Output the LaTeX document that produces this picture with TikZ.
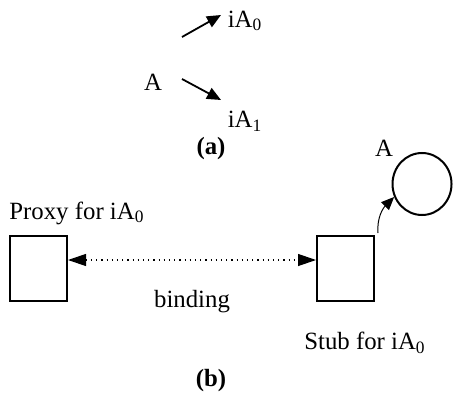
\documentclass[tikz,border=0pt]{standalone}
\usepackage{fontspec}
\setmainfont{Liberation Serif}
\usetikzlibrary{arrows.meta,shapes.geometric}

\begin{document}
\begin{tikzpicture}[
    x=0.5pt, y=-0.5pt,
    font=\fontsize{12.4}{14}\selectfont,
    lbl/.style={inner sep=0pt},
    caption/.style={inner sep=0pt, font=\fontsize{12.4}{14}\selectfont\bfseries},
    objbox/.style={draw, line width=1pt, minimum width=28.5pt, minimum height=32.5pt, inner sep=0pt},
    objcirc/.style={draw, ellipse, line width=1pt, minimum width=29.5pt, minimum height=31pt, inner sep=0pt},
    inst/.style={-{Triangle[length=7pt,width=6pt]}, line width=0.9pt},
    bind/.style={{Triangle[length=9pt,width=6pt]}-{Triangle[length=9pt,width=6pt]}, dotted, line width=0.6pt},
    ref/.style={-{Triangle[length=6.5pt,width=5.5pt]}, line width=0.5pt}
]
\useasboundingbox (0,0) rectangle (453,395);

% (a): object and its two instances
\node[lbl] (objA) at (153,82) {A};
\node[lbl] (ia0) at (245,21) {iA\textsubscript{0}};
\node[lbl] (ia1) at (245,121) {iA\textsubscript{1}};
\coordinate (up0) at (182,37);
\coordinate (up1) at (221,15);
\coordinate (dn0) at (182,79);
\coordinate (dn1) at (221,100);
\draw[inst] (up0) -- (up1);
\draw[inst] (dn0) -- (dn1);
\node[caption] (capa) at (211,149) {(a)};

% (b): proxy, stub and the object
\node[lbl, anchor=west] (proxylbl) at (9,213) {Proxy for iA\textsubscript{0}};
\node[objbox] (proxy) at (38.5,268.5) {};
\node[objbox] (stub) at (345.5,268.5) {};
\draw[bind] (proxy.east |- 0,260) -- (stub.west |- 0,260);
\node[lbl] (bindlbl) at (192,302) {binding};
\node[lbl] (stublbl) at (365,343) {Stub for iA\textsubscript{0}};

\node[objcirc] (obj) at (422,184) {};
\node[lbl] (objlbl) at (384,148) {A};
\draw[ref] ([xshift=1.5pt,yshift=1pt]stub.north east) to[out=95,in=225] (obj.205);

\node[caption] (capb) at (211,381) {(b)};
\end{tikzpicture}
\end{document}
